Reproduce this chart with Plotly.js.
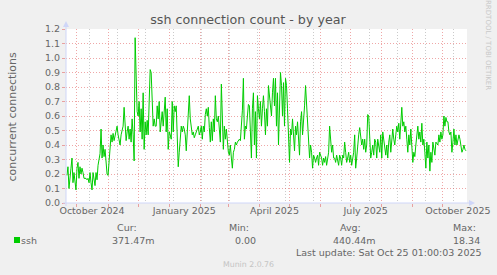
<!DOCTYPE html>
<html><head><meta charset="utf-8">
<script src="https://cdn.plot.ly/plotly-3.0.1.min.js"></script>
<style>html,body{margin:0;padding:0;background:#F0F0F0;overflow:hidden}#chart{width:497px;height:275px}</style>
</head><body><div id="chart"></div>
<script>
// ---- data ----
const seriesName = 'ssh';
const startDate = '2024-09-21';
const sshValues = [
0.19,0.25,0.10,0.21,0.24,0.31,0.14,0.21,0.16,0.09,
0.24,0.28,0.17,0.25,0.20,0.24,0.21,0.17,0.17,0.17,
0.16,0.17,0.14,0.21,0.14,0.09,0.21,0.14,0.12,0.21,
0.16,0.26,0.29,0.34,0.51,0.31,0.40,0.32,0.37,0.26,
0.20,0.19,0.31,0.40,0.47,0.42,0.48,0.43,0.47,0.48,
0.53,0.47,0.43,0.40,0.47,0.51,0.53,0.66,0.51,0.43,
0.49,0.53,0.44,0.51,0.42,0.58,0.47,0.29,1.14,0.79,
0.63,0.60,0.70,0.49,0.65,0.44,0.76,0.37,0.56,0.47,
0.57,0.47,0.76,0.92,0.90,0.65,0.53,0.58,0.53,0.53,
0.67,0.58,0.70,0.49,0.58,0.63,0.53,0.67,0.73,0.49,
0.65,0.37,0.49,0.47,0.44,0.70,0.49,0.67,0.63,0.67,
0.47,0.25,0.35,0.47,0.53,0.49,0.53,0.51,0.47,0.36,
0.49,0.58,0.74,0.58,0.53,0.47,0.49,0.45,0.47,0.49,
0.51,0.53,0.47,0.49,0.53,0.44,0.53,0.49,0.61,0.65,
0.60,0.66,0.52,0.42,0.56,0.43,0.58,0.49,0.74,0.58,
0.56,0.60,0.51,0.42,0.82,0.51,0.37,0.53,0.44,0.51,
0.40,0.35,0.33,0.40,0.31,0.24,0.35,0.37,0.42,0.40,
0.42,0.43,0.44,0.43,0.53,0.64,0.86,0.44,0.53,0.51,
0.60,0.68,0.67,0.51,0.31,0.65,0.76,0.40,0.63,0.31,
0.74,0.65,0.58,0.70,0.53,0.65,0.74,0.63,
0.47,0.65,0.53,0.81,0.72,0.67,0.60,0.76,0.86,0.67,
0.86,0.53,0.76,0.40,0.64,0.90,0.81,0.60,0.83,0.53,
0.86,0.81,0.65,0.47,0.28,0.51,0.47,0.58,0.44,0.36,
0.53,0.47,0.56,0.42,0.33,0.56,0.63,0.47,0.56,0.67,
0.81,0.67,0.49,0.37,0.31,0.40,0.35,0.24,0.33,0.31,
0.28,0.31,0.33,0.26,0.35,0.33,0.31,0.26,0.31,0.28,
0.32,0.26,0.31,0.35,0.53,0.44,0.35,0.40,0.31,0.31,
0.28,0.33,0.28,0.26,0.33,0.31,0.26,0.33,0.31,0.42,
0.35,0.28,0.31,0.35,0.28,0.33,0.26,0.31,0.35,0.47,
0.24,0.31,0.42,0.47,0.52,0.47,0.40,0.44,0.37,0.44,
0.35,
0.40,0.61,0.60,0.47,0.31,0.35,0.40,0.33,0.44,0.42,
0.31,0.44,0.40,0.35,0.47,0.31,0.49,0.42,0.37,0.33,
0.40,0.31,0.42,0.47,0.35,0.44,0.51,0.44,0.40,0.47,
0.53,0.49,0.55,0.44,0.58,0.66,0.53,0.56,0.49,0.53,
0.44,0.35,0.47,0.40,0.51,0.35,0.28,0.35,0.32,0.40,
0.47,0.53,0.44,0.49,0.42,0.55,0.40,0.44,0.35,0.24,
0.42,0.31,0.40,0.22,0.35,0.28,0.42,0.35,0.33,0.42,
0.41,0.40,0.47,0.42,0.49,0.44,0.47,0.60,0.53,0.59,
0.56,0.56,0.49,0.47,0.49,0.35,0.42,0.51,0.40,0.47,
0.40,0.44,0.47,0.44,0.40,0.35,0.37,0.40,0.37,0.36
];
const tickDates = ['2024-10-16','2025-01-16','2025-04-16','2025-07-16','2025-10-16'];
const tickLabels = ['October 2024','January 2025','April 2025','July 2025','October 2025'];
const statHeaders = ['Cur:','Min:','Avg:','Max:'];
const statValues = ['371.47m','0.00','440.44m','18.34'];
const titleText = 'ssh connection count - by year';
const yTitle = 'concurrent connections';
const lastUpdate = 'Last update: Sat Oct 25 01:00:03 2025';
const footer = 'Munin 2.0.76';
const watermark = 'RRDTOOL / TOBI OETIKER';

// ---- layout helpers (pixel -> paper) ----
const L = 66, R = 467, T = 29, B = 203, W = 497, H = 275;
const px = x => (x - L) / (R - L);
const py = y => (B - y) / (B - T);
const FONT = 'DejaVu Sans, Verdana, sans-serif';
const TXT = '#666666';
const AXC = '#CFD6F8';
const MGRID = 'rgba(224,80,80,0.5)';
const GRID = 'rgba(150,150,150,0.5)';

const headerRight = [137.5, 249.5, 362, 477];
const valueRight = [156, 256.5, 376.5, 480.5];

const ann = [];
function txt(text, x, y, xanchor, size, color, extra) {
  ann.push(Object.assign({text, x: px(x), y: py(y), xref: 'paper', yref: 'paper',
    xanchor, yanchor: 'middle', showarrow: false, borderpad: 0,
    font: {family: FONT, size, color}}, extra || {}));
}
txt(yTitle, 11.5, 117, 'center', 11, TXT, {textangle: -90});
statHeaders.forEach((h, i) => txt(h, headerRight[i], 227, 'right', 9.5, TXT));
txt(seriesName, 20, 240, 'left', 9.5, TXT);
statValues.forEach((v, i) => txt(v, valueRight[i], 240, 'right', 9.5, TXT));
txt(lastUpdate, 483, 252, 'right', 9.5, TXT);
txt(footer, 248, 264, 'center', 7.8, '#C4C4C4');
txt(watermark, 488, 45, 'center', 7, '#C8C8C8', {textangle: 90});

const shapes = [
  {type: 'line', xref: 'paper', yref: 'paper', x0: px(63), x1: px(470), y0: py(203), y1: py(203), line: {color: AXC, width: 1}},
  {type: 'line', xref: 'paper', yref: 'paper', x0: px(66), x1: px(66), y0: py(206), y1: py(26), line: {color: AXC, width: 1}},
  {type: 'path', xref: 'paper', yref: 'paper', path: `M${px(469)},${py(200)} L${px(475)},${py(203)} L${px(469)},${py(206)} Z`, fillcolor: AXC, line: {width: 0}},
  {type: 'path', xref: 'paper', yref: 'paper', path: `M${px(63)},${py(27)} L${px(66)},${py(21)} L${px(69)},${py(27)} Z`, fillcolor: AXC, line: {width: 0}},
  {type: 'rect', xref: 'paper', yref: 'paper', x0: px(14), x1: px(20), y0: py(243), y1: py(237), fillcolor: '#00CC00', line: {width: 0}}
];

const range = ['2024-09-20 01:00', '2025-10-25 01:00'];
const traces = [
  {type: 'scatter', mode: 'lines', name: seriesName, x0: startDate, dx: 86400000, y: sshValues,
   line: {color: '#00CC00', width: 1}, hoverinfo: 'skip', showlegend: false},
  {type: 'scatter', mode: 'lines', x: [], y: [], xaxis: 'x2', yaxis: 'y', showlegend: false, hoverinfo: 'skip'}
];

const layout = {
  width: W, height: H,
  paper_bgcolor: '#F0F0F0', plot_bgcolor: '#FFFFFF',
  margin: {l: L, r: W - R, t: T, b: H - B, pad: 0},
  showlegend: false,
  title: {text: titleText, x: 248 / W, xref: 'container', y: 1 - 19.5 / H, yref: 'container',
          xanchor: 'center', yanchor: 'middle', font: {family: FONT, size: 12.7, color: '#555555'}},
  xaxis: {type: 'date', range, tickvals: tickDates, ticktext: tickLabels, ticks: '', showgrid: false,
          zeroline: false, showline: false, tickfont: {family: FONT, size: 9.5, color: TXT},
          minor: {dtick: 28 * 86400000, tick0: '2024-09-15', showgrid: true, gridcolor: GRID, griddash: '1px,2px', gridwidth: 1}},
  xaxis2: {type: 'date', range, overlaying: 'x', anchor: 'y', side: 'bottom', dtick: 'M1', tick0: '2024-10-01',
           showgrid: true, gridcolor: MGRID, griddash: '1px,2px', gridwidth: 1, ticks: 'outside', ticklen: 3,
           tickcolor: MGRID, showticklabels: false, zeroline: false, showline: false},
  yaxis: {range: [0, 1.2], dtick: 0.1, tick0: 0, tickformat: '.1f', showgrid: true, gridcolor: MGRID,
          griddash: '1px,2px', gridwidth: 1, ticks: 'outside', ticklen: 3, tickcolor: MGRID,
          zeroline: false, showline: false, tickfont: {family: FONT, size: 9.5, color: TXT}},
  annotations: ann,
  shapes
};
Plotly.newPlot('chart', traces, layout, {staticPlot: true, displayModeBar: false});
</script>
</body></html>
